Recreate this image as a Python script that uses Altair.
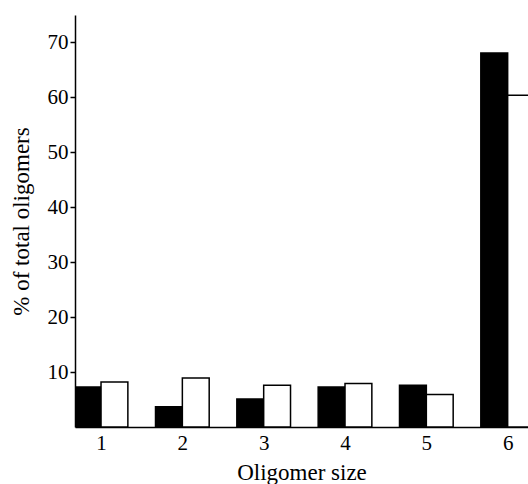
import altair as alt
import pandas as pd

sizes = [1, 2, 3, 4, 5, 6]
filled = [7.3, 3.7, 5.1, 7.3, 7.6, 68.1]
open_ = [8.2, 8.9, 7.6, 7.9, 5.9, 60.4]
series_names = ["filled", "open"]
y_ticks = [10, 20, 30, 40, 50, 60, 70]

rows = []
for s, f, o in zip(sizes, filled, open_):
    rows.append({"size": s, "series": "filled", "pct": f})
    rows.append({"size": s, "series": "open", "pct": o})
df = pd.DataFrame(rows)

FONT = "Liberation Serif"
BW = 0.33

chart = (
    alt.Chart(df)
    .transform_calculate(
        x0=f"datum.size + (datum.series == 'filled' ? -{BW} : 0)",
        x1=f"datum.size + (datum.series == 'filled' ? 0 : {BW})",
    )
    .mark_bar(clip=True, stroke="black", strokeWidth=1.5)
    .encode(
        x=alt.X(
            "x0:Q",
            scale=alt.Scale(domain=[0.68, 6.25], nice=False, zero=False),
            axis=alt.Axis(
                values=sizes,
                title="Oligomer size",
                grid=False,
                ticks=False,
                labelPadding=5,
                titlePadding=8,
                domainColor="black",
                domainWidth=1.5,
                labelFont=FONT,
                labelFontSize=21,
                labelColor="black",
                titleFont=FONT,
                titleFontSize=23,
                titleFontWeight="normal",
                titleColor="black",
                format="d",
            ),
        ),
        x2="x1:Q",
        y=alt.Y(
            "pct:Q",
            scale=alt.Scale(domain=[0, 75], nice=False),
            axis=alt.Axis(
                values=y_ticks,
                title="% of total oligomers",
                grid=False,
                tickSize=5,
                tickColor="black",
                tickWidth=1.5,
                labelPadding=2,
                titlePadding=14,
                domainColor="black",
                domainWidth=1.5,
                labelFont=FONT,
                labelFontSize=21,
                labelColor="black",
                titleFont=FONT,
                titleFontSize=23,
                titleFontWeight="normal",
                titleColor="black",
            ),
        ),
        y2=alt.datum(0),
        fill=alt.Fill(
            "series:N",
            scale=alt.Scale(domain=series_names, range=["black", "white"]),
            legend=None,
        ),
    )
    .properties(
        width=453,
        height=412,
        autosize=alt.AutoSizeParams(type="none"),
        padding={"left": 75, "top": 15, "right": 0, "bottom": 57},
    )
    .configure(background="white")
    .configure_view(stroke=None)
)

chart.save("out.html", embed_options={"renderer": "svg", "actions": False})
